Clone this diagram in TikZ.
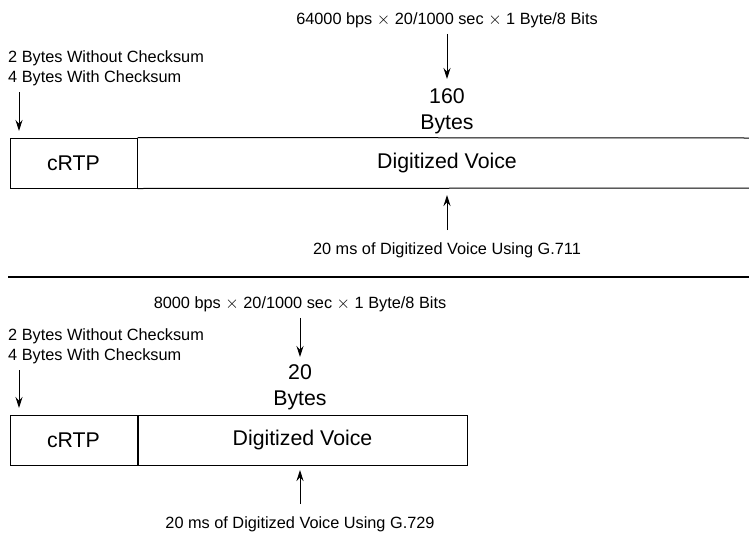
\documentclass[tikz,border=0pt]{standalone}
\usepackage{fontspec}
\setmainfont{Liberation Sans}
\usetikzlibrary{arrows.meta, positioning}

\begin{document}
\begin{tikzpicture}[x=1pt, y=-1pt]

\tikzset{note/.style = {font=\fontsize{16.3}{20}\selectfont, inner sep=0pt, align=left}}
\tikzset{big/.style = {font=\fontsize{21.3}{26}\selectfont, inner sep=0pt, align=center}}
\tikzset{field/.style = {draw, line width=1pt, minimum width=127pt, minimum height=50pt, font=\fontsize{21.3}{26}\selectfont}}
\tikzset{edge/.style = {-{Stealth[length=11pt, width=7pt]}, line width=1pt}}
\useasboundingbox (0,0) rectangle (749,536);

%G.711
\node[note] (f1) at (447,20) {64000 bps $\times$ 20/1000 sec $\times$ 1 Byte/8 Bits};
\node[big] (n1) at (447,111) {160\\Bytes};
\node[note, anchor=north west] (c1) at (8,50) {2 Bytes Without Checksum\\4 Bytes With Checksum};
\node[field] (r1) at (73.5,163) {cRTP};
\node[big] (v1) at (447,163) {Digitized Voice};
\node[note] (g1) at (447,250) {20 ms of Digitized Voice Using G.711};
\coordinate (e1a) at (749,138);
\coordinate (e1b) at (749,188);
\draw[line width=1pt] (r1.north east) -- (e1a);
\draw[line width=1pt] (r1.south east) -- (e1b);
\draw[edge] (f1.south) ++(0,6) -- (447,79);
\draw[edge] (19,92) -- (19,131);
\draw[edge] (g1.north) ++(0,-12) -- (447,195);

%separator
\coordinate (s1) at (8,277);
\coordinate (s2) at (749,277);
\draw[line width=2.6pt] (s1) -- (s2);

%G.729
\node[note] (f2) at (300,304) {8000 bps $\times$ 20/1000 sec $\times$ 1 Byte/8 Bits};
\node[big] (n2) at (300,387) {20\\Bytes};
\node[note, anchor=north west] (c2) at (8,328) {2 Bytes Without Checksum\\4 Bytes With Checksum};
\node[field] (r2) at (73.5,440) {cRTP};
\node[field, minimum width=329pt, anchor=west] (v2) at (r2.east) {Digitized Voice};
\node[note] (g2) at (300,524) {20 ms of Digitized Voice Using G.729};
\draw[edge] (f2.south) ++(0,6) -- (300,357);
\draw[edge] (19,370) -- (19,408);
\draw[edge] (g2.north) ++(0,-12) -- (300,470);

\end{tikzpicture}
\end{document}
